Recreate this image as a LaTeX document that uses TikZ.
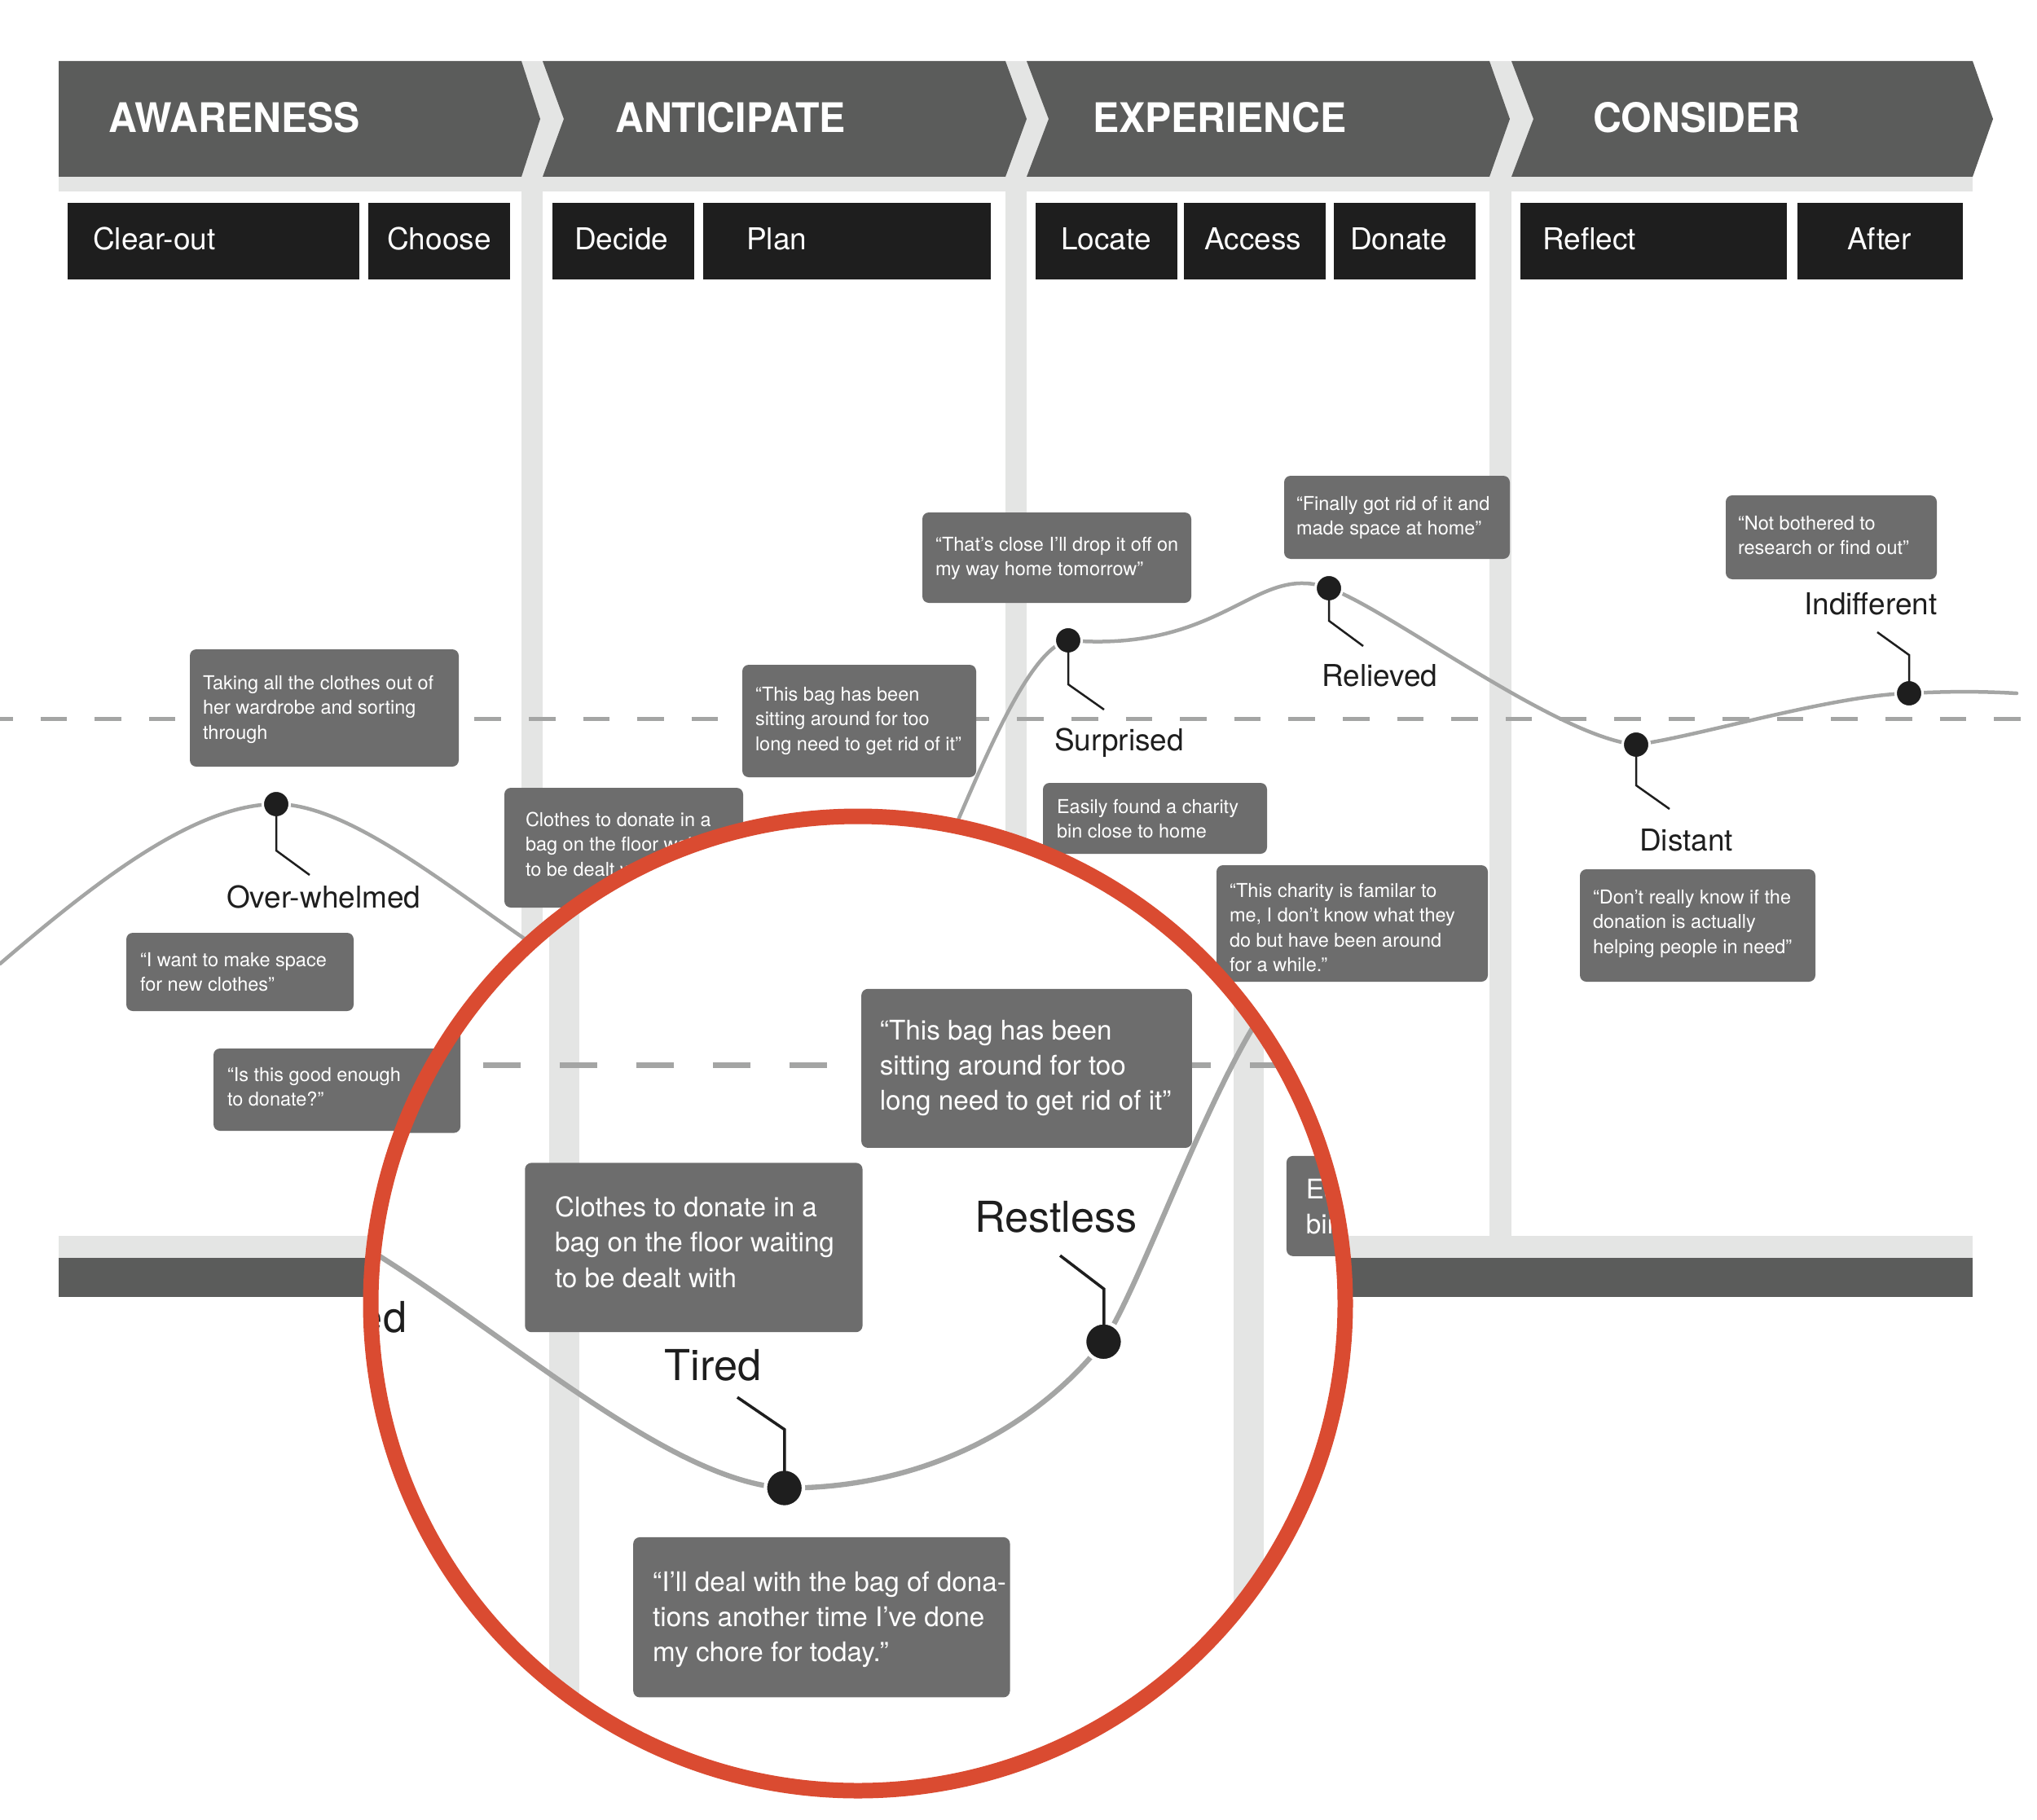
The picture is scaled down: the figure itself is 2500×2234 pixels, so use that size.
\documentclass[tikz,border=0pt]{standalone}
\usepackage{fontspec}
\usepackage{graphicx}
\setmainfont{TeX Gyre Heros}
\definecolor{hdr}{HTML}{5B5C5B}
\definecolor{lgrey}{HTML}{E4E5E4}
\definecolor{notegrey}{HTML}{6D6D6D}
\definecolor{blk}{HTML}{1E1E1E}
\definecolor{crv}{HTML}{A4A5A4}
\definecolor{ringred}{HTML}{DA4B31}
\def\lwf{1}
\def\don{32.5pt}\def\doff{34.1pt}\def\dph{17pt}
\newif\ifmagview
\magviewfalse
\newcommand\hscale[1]{\scalebox{0.965}[1]{#1}}
\tikzset{
  notebox/.style={fill=notegrey, rounded corners=8pt, inner sep=0pt, outer sep=0pt, anchor=north west, draw=none},
  notetext/.style={text=white, anchor=base west, inner sep=0pt, outer sep=0pt, font=\fontsize{23.5}{30.5}\selectfont},
  emolabel/.style={text=blk, anchor=base west, inner sep=0pt, font=\fontsize{37}{44}\selectfont},
  stagebox/.style={fill=blk, anchor=north west, inner sep=0pt, outer sep=0pt, minimum height=94},
  stagetext/.style={text=white, anchor=base west, inner sep=0pt, font=\fontsize{37}{44}\selectfont},
  hdrtext/.style={text=white, anchor=base west, inner sep=0pt, font=\fontsize{50}{56}\selectfont\bfseries},
  dotnode/.style={circle, fill=blk, draw=white, line width=3*\lwf, minimum size=33, inner sep=0pt},
  leader/.style={draw=blk, line width=2.5*\lwf},
  curveline/.style={draw=crv, line width=4.5*\lwf, line cap=round},
  dashline/.style={draw=crv, line width=5*\lwf, dash pattern=on \don off \doff, dash phase=\dph},
}
\newcommand\mknote[8]{%
  \node[notebox, minimum width={#4-#2}, minimum height={#5-#3}] (#1) at (#2,#3) {};
  \node[notetext] (#1t) at (#6,#7) {\vtop{#8}};
}
\newcommand\basediagram{%
  % frame
  \fill[lgrey] (72,75) rectangle (2421,235);
  \fill[lgrey] (640,217) rectangle (666,1517);
  \fill[lgrey] (1234,217) rectangle (1260,1517);
  \fill[lgrey] (1828,217) rectangle (1855,1517);
  \fill[lgrey] (72,1517) rectangle (2421,1544);
  \fill[hdr] (72,1544) rectangle (2421,1592);
  % header chevrons
  \fill[hdr] (72,75) -- (640,75) -- (663,146) -- (640,217) -- (72,217) -- cycle;
  \fill[hdr] (666,75) -- (1234,75) -- (1260,146) -- (1234,217) -- (666,217) -- (692,146) -- cycle;
  \fill[hdr] (1260,75) -- (1828,75) -- (1853,146) -- (1828,217) -- (1260,217) -- (1287,146) -- cycle;
  \fill[hdr] (1855,75) -- (2421,75) -- (2446,146) -- (2421,217) -- (1855,217) -- (1882,146) -- cycle;
  \node[hdrtext] (hA) at (133,163) {\hscale{AWARENESS}};
  \node[hdrtext] (hB) at (755,163) {\hscale{ANTICIPATE}};
  \node[hdrtext] (hC) at (1341,163) {\hscale{EXPERIENCE}};
  \node[hdrtext] (hD) at (1955,163) {\hscale{CONSIDER}};
  % stage boxes
  \node[stagebox, minimum width=358] (sClear) at (83,249) {};
  \node[stagebox, minimum width=174] (sChoose) at (452,249) {};
  \node[stagebox, minimum width=174] (sDecide) at (678,249) {};
  \node[stagebox, minimum width=353] (sPlan) at (863,249) {};
  \node[stagebox, minimum width=174] (sLocate) at (1271,249) {};
  \node[stagebox, minimum width=174] (sAccess) at (1453,249) {};
  \node[stagebox, minimum width=174] (sDonate) at (1637,249) {};
  \node[stagebox, minimum width=327] (sReflect) at (1866,249) {};
  \node[stagebox, minimum width=203] (sAfter) at (2206,249) {};
  \node[stagetext] (tClear) at (114,306) {Clear-out};
  \node[stagetext] (tChoose) at (475,306) {Choose};
  \node[stagetext] (tDecide) at (705,306) {Decide};
  \node[stagetext] (tPlan) at (916,306) {Plan};
  \node[stagetext] (tLocate) at (1302,306) {Locate};
  \node[stagetext] (tAccess) at (1478,306) {Access};
  \node[stagetext] (tDonate) at (1657,306) {Donate};
  \node[stagetext] (tReflect) at (1893,306) {Reflect};
  \node[stagetext] (tAfter) at (2267,306) {After};
  % neutral line
  \coordinate (dashL) at (0,882);
  \coordinate (dashR) at (2500,882);
  \draw[dashline] (dashL) -- (dashR);
  % emotion curve
  \coordinate (pL) at (0,1183);
  \coordinate (pOver) at (339,987);
  \coordinate (pTired) at (844,1249);
  \coordinate (pRest) at (1121,1122);
  \coordinate (pSurp) at (1311,786);
  \coordinate (pRelv) at (1631,722);
  \coordinate (pDist) at (2008,914);
  \coordinate (pIndf) at (2343,851);
  \coordinate (pR) at (2475,851);
  \draw[curveline] (pL)
    .. controls (120,1080) and (240,987) .. (pOver)
    .. controls (480,987) and (700,1240) .. (pTired)
    .. controls (960,1250) and (1060,1200) .. (pRest)
    .. controls (1165,1055) and (1245,800) .. (pSurp)
    .. controls (1480,800) and (1530,714) .. (1600,716)
    .. controls (1612,716) and (1622,719) .. (pRelv)
    .. controls (1700,745) and (1910,905) .. (pDist)
    .. controls (2080,905) and (2250,853) .. (pIndf)
    .. controls (2400,848) and (2440,849) .. (pR);
  % notes
  \mknote{nWant}{155}{1145}{434}{1241}{172}{1186}{\hbox{“I want to make space}\hbox{for new clothes”}}
  \mknote{nTake}{233}{797}{563}{941}{249}{846}{\hbox{Taking all the clothes out of}\hbox{her wardrobe and sorting}\hbox{through}}
  \ifmagview\else
  \mknote{nGood}{262}{1287}{567}{1388}{279}{1327}{\hbox{“Is this good enough}\hbox{to donate?”}}
  \fi
  \mknote{nClothes}{619}{967}{912}{1114}{645}{1014}{\hbox{Clothes to donate in a}\hbox{bag on the floor waiting}\hbox{to be dealt with}}
  \mknote{nBag}{911}{816}{1198}{954}{927}{860}{\hbox{“This bag has been}\hbox{sitting around for too}\hbox{long need to get rid of it”}}
  \mknote{nClose}{1132}{629}{1462}{740}{1148}{676}{\hbox{“That’s close I’ll drop it off on}\hbox{my way home tomorrow”}}
  \mknote{nEasy}{1280}{961}{1555}{1048}{1297}{998}{\hbox{Easily found a charity}\hbox{bin close to home}}
  \mknote{nFam}{1493}{1062}{1826}{1205}{1509}{1101}{\hbox{“This charity is familar to}\hbox{me, I don’t know what they}\hbox{do but have been around}\hbox{for a while.”}}
  \mknote{nFin}{1576}{584}{1853}{686}{1591}{626}{\hbox{“Finally got rid of it and}\hbox{made space at home”}}
  \mknote{nKnow}{1939}{1067}{2228}{1205}{1955}{1109}{\hbox{“Don’t really know if the}\hbox{donation is actually}\hbox{helping people in need”}}
  \mknote{nNot}{2118}{608}{2377}{711}{2133}{650}{\hbox{“Not bothered to}\hbox{research or find out”}}
  \mknote{nDeal}{713}{1292}{1040}{1431}{730}{1339}{\hbox{“I’ll deal with the bag of dona-}\hbox{tions another time I’ve done}\hbox{my chore for today.”}}
  % dots
  \node[dotnode] (dOver) at (pOver) {};
  \node[dotnode] (dTired) at (pTired) {};
  \node[dotnode] (dRest) at (pRest) {};
  \node[dotnode] (dSurp) at (pSurp) {};
  \node[dotnode] (dRelv) at (pRelv) {};
  \node[dotnode] (dDist) at (pDist) {};
  \node[dotnode] (dIndf) at (pIndf) {};
  % leaders
  \draw[leader] (dOver.center) -- ++(0,57) -- ++(41,30);
  \draw[leader] (dTired.center) -- ++(0,-51) -- ++(-41,-28);
  \draw[leader] (dRest.center) -- ++(0,-46) -- ++(-38,-29);
  \draw[leader] (dSurp.center) -- ++(0,54) -- ++(44,31);
  \draw[leader] (dRelv.center) -- ++(0,40) -- ++(42,31);
  \draw[leader] (dDist.center) -- ++(0,50) -- ++(41,29);
  \draw[leader] (dIndf.center) -- ++(0,-47) -- ++(-39,-28);
  % labels
  \node[emolabel] (lOver) at (278,1114) {Over-whelmed};
  \node[emolabel] (lTired) at (740,1156) {Tired};
  \node[emolabel] (lRest) at (1009,1027) {Restless};
  \node[emolabel] (lSurp) at (1294,921) {Surprised};
  \node[emolabel] (lRelv) at (1622,842) {Relieved};
  \node[emolabel] (lDist) at (2012,1044) {Distant};
  \node[emolabel] (lIndf) at (2214,754) {Indifferent};
}
\begin{document}
\begin{tikzpicture}[x=1pt,y=-1pt]
\useasboundingbox (0,0) rectangle (2500,2234);
\fill[white] (0,0) rectangle (2500,2234);
\basediagram
% magnifier
\coordinate (lensC) at (1053,1600);
\begin{scope}
  \clip (lensC) circle [radius=598];
  \fill[white] (lensC) circle [radius=598];
  \begin{scope}[shift={(-231,60)}, scale=1.414, transform shape]
    \magviewtrue
    \def\lwf{1.414}
    \def\don{45.96pt}\def\doff{48.22pt}\def\dph{24.04pt}
    \basediagram
  \end{scope}
\end{scope}
\draw[ringred, line width=19] (lensC) circle [radius=598];
\end{tikzpicture}
\end{document}
